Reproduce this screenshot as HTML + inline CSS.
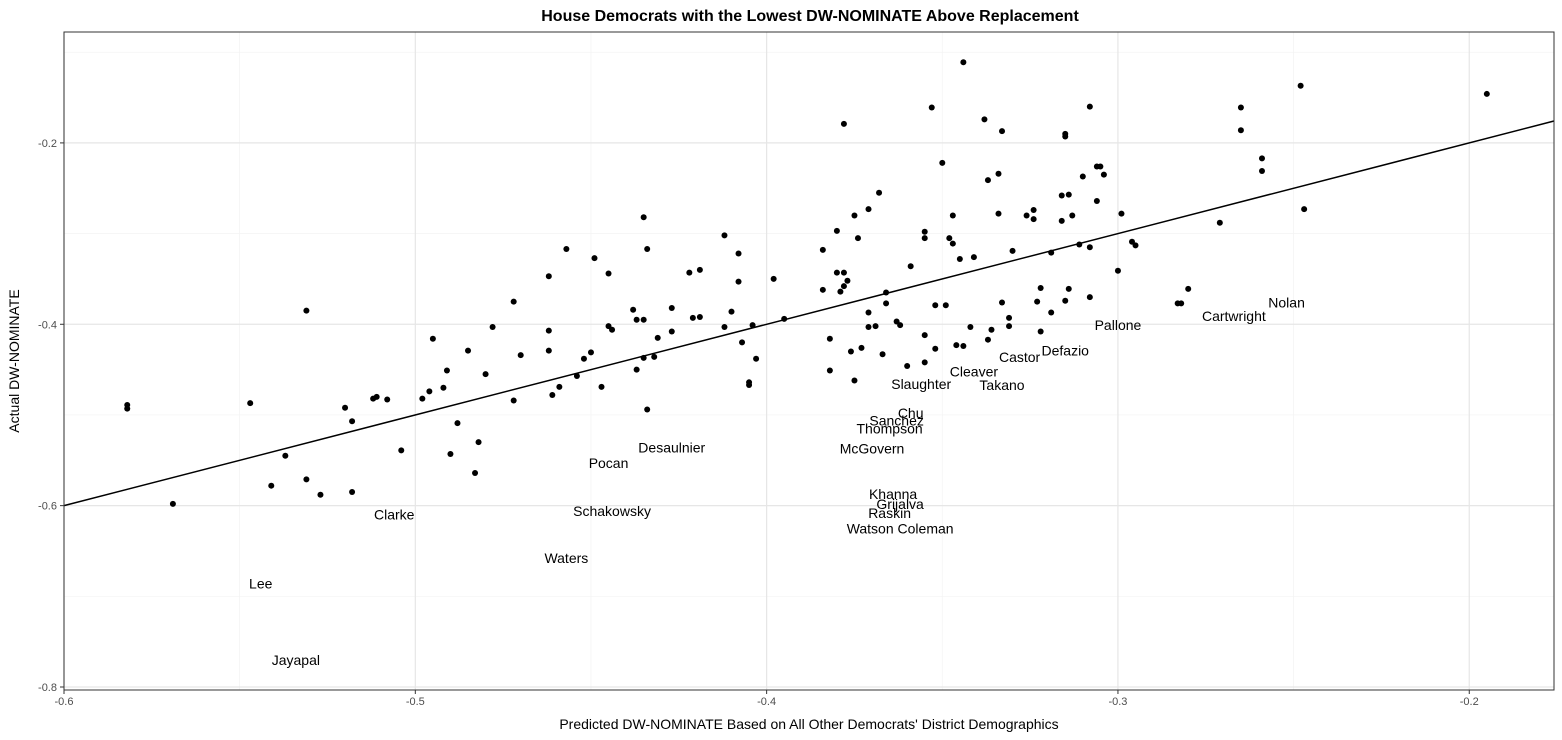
<!DOCTYPE html>
<html><head><meta charset="utf-8"><style>
html,body{margin:0;padding:0;background:#fff;}
svg{display:block;font-family:"Liberation Sans",Arial,sans-serif;}
</style></head><body>
<svg id="chart" width="1562" height="740">
<text x="810" y="21" text-anchor="middle" font-size="16" font-weight="bold">House Democrats with the Lowest DW-NOMINATE Above Replacement</text>
<text x="809" y="729" text-anchor="middle" font-size="14">Predicted DW-NOMINATE Based on All Other Democrats' District Demographics</text>
<text transform="translate(19,361) rotate(-90)" text-anchor="middle" font-size="14">Actual DW-NOMINATE</text>
<g id="grid"></g><g id="marks"></g><g id="labels"></g><g id="axes"></g>
</svg>
<script>
const xs=[-0.582,-0.582,-0.569,-0.547,-0.531,-0.541,-0.537,-0.531,-0.527,-0.518,-0.520,-0.518,-0.512,-0.511,-0.508,-0.504,-0.498,-0.496,-0.495,-0.492,-0.491,-0.490,-0.488,-0.485,-0.483,-0.482,-0.480,-0.478,
-0.472,-0.470,-0.472,-0.462,-0.462,-0.462,-0.461,-0.459,-0.457,-0.454,-0.452,-0.450,-0.449,-0.447,-0.445,-0.445,-0.444,-0.438,-0.437,-0.435,-0.435,-0.434,-0.435,-0.437,-0.434,-0.432,-0.431,-0.427,-0.427,-0.422,-0.419,-0.421,-0.419,-0.412,-0.412,-0.410,-0.408,-0.408,-0.407,-0.405,-0.405,-0.404,-0.403,-0.398,-0.395,-0.384,-0.380,-0.375,-0.374,-0.380,-0.378,-0.377,-0.378,-0.379,-0.384,-0.382,-0.382,-0.376,-0.375,-0.373,
-0.344,-0.353,-0.378,-0.338,-0.333,-0.308,-0.315,-0.315,-0.350,-0.337,-0.334,-0.310,-0.306,-0.305,-0.304,-0.306,-0.316,-0.314,-0.368,-0.371,-0.347,-0.334,-0.326,-0.324,-0.324,-0.316,-0.313,-0.299,-0.355,-0.355,-0.348,-0.347,-0.345,-0.341,-0.330,-0.319,-0.311,-0.308,-0.296,-0.295,-0.359,-0.366,-0.366,-0.352,-0.349,-0.371,-0.371,-0.369,-0.363,-0.362,-0.300,-0.322,-0.314,-0.333,-0.323,-0.315,-0.308,-0.283,-0.319,-0.331,-0.331,-0.342,-0.336,-0.322,-0.337,-0.355,-0.346,-0.344,-0.352,-0.367,-0.360,-0.355,
-0.248,-0.265,-0.265,-0.195,-0.259,-0.259,-0.247,-0.271,-0.280,-0.282];
const ys=[-0.489,-0.493,-0.598,-0.487,-0.385,-0.578,-0.545,-0.571,-0.588,-0.585,-0.492,-0.507,-0.482,-0.480,-0.483,-0.539,-0.482,-0.474,-0.416,-0.470,-0.451,-0.543,-0.509,-0.429,-0.564,-0.530,-0.455,-0.403,
-0.375,-0.434,-0.484,-0.347,-0.407,-0.429,-0.478,-0.469,-0.317,-0.457,-0.438,-0.431,-0.327,-0.469,-0.344,-0.402,-0.406,-0.384,-0.395,-0.395,-0.282,-0.317,-0.437,-0.450,-0.494,-0.436,-0.415,-0.382,-0.408,-0.343,-0.340,-0.393,-0.392,-0.302,-0.403,-0.386,-0.322,-0.353,-0.420,-0.464,-0.467,-0.401,-0.438,-0.350,-0.394,-0.318,-0.297,-0.280,-0.305,-0.343,-0.343,-0.352,-0.358,-0.364,-0.362,-0.416,-0.451,-0.430,-0.462,-0.426,
-0.111,-0.161,-0.179,-0.174,-0.187,-0.160,-0.190,-0.193,-0.222,-0.241,-0.234,-0.237,-0.226,-0.226,-0.235,-0.264,-0.258,-0.257,-0.255,-0.273,-0.280,-0.278,-0.280,-0.274,-0.284,-0.286,-0.280,-0.278,-0.298,-0.305,-0.305,-0.311,-0.328,-0.326,-0.319,-0.321,-0.312,-0.315,-0.309,-0.313,-0.336,-0.365,-0.377,-0.379,-0.379,-0.387,-0.403,-0.402,-0.397,-0.401,-0.341,-0.360,-0.361,-0.376,-0.375,-0.374,-0.370,-0.377,-0.387,-0.393,-0.402,-0.403,-0.406,-0.408,-0.417,-0.412,-0.423,-0.424,-0.427,-0.433,-0.446,-0.442,
-0.137,-0.161,-0.186,-0.146,-0.217,-0.231,-0.273,-0.288,-0.361,-0.377];
const labelNames=["Jayapal","Lee","Clarke","Waters","Schakowsky","Pocan","Desaulnier","McGovern","Thompson","Sanchez","Chu","Slaughter","Cleaver","Takano","Castor","Defazio","Pallone","Cartwright","Nolan","Khanna","Grijalva","Raskin","Watson Coleman"];
const labelX=[-0.534,-0.544,-0.506,-0.457,-0.444,-0.445,-0.427,-0.370,-0.365,-0.363,-0.359,-0.356,-0.341,-0.333,-0.328,-0.315,-0.300,-0.267,-0.252,-0.364,-0.362,-0.365,-0.362];
const labelY=[-0.770,-0.686,-0.610,-0.658,-0.606,-0.553,-0.536,-0.537,-0.515,-0.506,-0.498,-0.466,-0.452,-0.467,-0.436,-0.429,-0.401,-0.391,-0.376,-0.587,-0.598,-0.608,-0.625];
const xTicks=[-0.6,-0.5,-0.4,-0.3,-0.2];
const yTicks=[-0.2,-0.4,-0.6,-0.8];
const fitSlope=1.0, fitIntercept=0.0;

const L=64,R=1554,T=32,B=690;
const xMin=-0.6,xMax=-0.17588,yMin=-0.8033,yMax=-0.0777;
const X=v=>L+(v-xMin)/(xMax-xMin)*(R-L);
const Y=v=>B-(v-yMin)/(yMax-yMin)*(B-T);
const NS="http://www.w3.org/2000/svg";
function mk(tag,parent,attrs){const e=document.createElementNS(NS,tag);for(const k in attrs)e.setAttribute(k,attrs[k]);parent.appendChild(e);return e;}
const grid=document.getElementById('grid'),marks=document.getElementById('marks'),labs=document.getElementById('labels'),axes=document.getElementById('axes');
// minor gridlines
for(let i=0;i<xTicks.length;i++){const m=xTicks[i]+0.05;if(m<xMax){const l=mk('line',grid,{x1:X(m),x2:X(m),y1:T,y2:B,stroke:'#f3f3f3','stroke-width':0.7});}}
for(let i=0;i<yTicks.length;i++){const m=yTicks[i]+0.1;if(m<yMax){const l=mk('line',grid,{x1:L,x2:R,y1:Y(m),y2:Y(m),stroke:'#f3f3f3','stroke-width':0.7});}}
xTicks.forEach(t=>{const l=mk('line',grid,{x1:X(t),x2:X(t),y1:T,y2:B,stroke:'#e6e6e6','stroke-width':1.2});

mk('line',axes,{x1:X(t),x2:X(t),y1:B,y2:B+4,stroke:'#333','stroke-width':1});
const tx=mk('text',axes,{x:X(t),y:B+15,'text-anchor':'middle','font-size':11,fill:'#4d4d4d'});tx.textContent=t.toFixed(1);
});
yTicks.forEach(t=>{const l=mk('line',grid,{x1:L,x2:R,y1:Y(t),y2:Y(t),stroke:'#e6e6e6','stroke-width':1.2});

mk('line',axes,{x1:L-4,x2:L,y1:Y(t),y2:Y(t),stroke:'#333','stroke-width':1});
const tx=mk('text',axes,{x:L-7,y:Y(t)+4,'text-anchor':'end','font-size':11,fill:'#4d4d4d'});tx.textContent=t.toFixed(1);
});
const frame=mk('rect',axes,{x:L,y:T,width:R-L,height:B-T,fill:'none',stroke:'#333','stroke-width':1});

for(let i=0;i<xs.length;i++){const c=mk('circle',marks,{cx:X(xs[i]),cy:Y(ys[i]),r:3,fill:'#000'});

}
const fl=mk('line',marks,{x1:X(xMin),y1:Y(fitIntercept+fitSlope*xMin),x2:X(xMax),y2:Y(fitIntercept+fitSlope*xMax),stroke:'#000','stroke-width':1.5});

for(let i=0;i<labelNames.length;i++){const t=mk('text',labs,{x:X(labelX[i]),y:Y(labelY[i])+5,'text-anchor':'middle','font-size':14,fill:'#000'});
t.textContent=labelNames[i];

}
</script>
</body></html>
